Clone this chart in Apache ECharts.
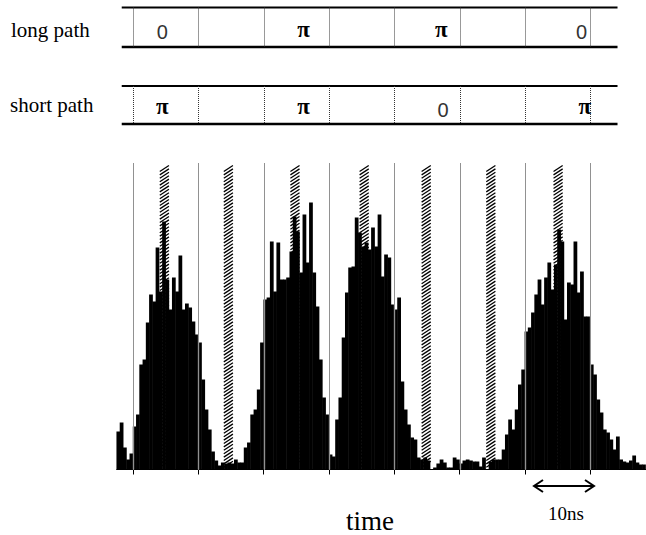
<!DOCTYPE html>
<html>
<head>
<meta charset="utf-8">
<script src="https://cdn.jsdelivr.net/npm/echarts@6/dist/echarts.min.js"></script>
<style>
    html, body { margin: 0; padding: 0; background: #fff; }
    #chart { width: 646px; height: 535px; }
</style>
</head>
<body>
<div id="chart"></div>
<script>
// time axis in ns, 0 = first gate edge
const binStart = -2.5;
const binWidth = 0.5;
const counts = [
    38, 47, 22, 10, 16,
    43, 55, 105, 110, 147, 175, 168, 222, 178, 248, 190, 160, 192, 178, 214, 160, 166, 162, 148, 135,
    127, 90, 60, 40, 18, 9, 4, 7, 6, 7, 6, 10, 7, 7, 22, 27, 55, 60, 80, 127,
    170, 172, 228, 178, 227, 190, 190, 192, 218, 253, 238, 197, 255, 207, 267, 197, 163, 110, 72, 55,
    15, 13, 50, 72, 132, 177, 202, 203, 252, 237, 223, 227, 220, 242, 223, 255, 193, 215, 212, 165,
    160, 172, 88, 60, 45, 32, 30, 12, 10, 12, 9, 0, 2, 6, 10, 7, 2, 2, 12, 10,
    6, 9, 10, 9, 8, 8, 3, 12, 0, 8, 10, 10, 10, 20, 35, 50, 40, 60, 85, 100,
    138, 142, 157, 175, 190, 165, 192, 207, 180, 205, 240, 228, 150, 187, 185, 228, 177, 198, 153, 153,
    105, 95, 70, 57, 40, 37, 30, 20, 33, 10, 8, 7, 9, 14, 7, 5, 5
];
const gateTimes = [0, 10, 20, 30, 40, 50, 60, 70];
const bandCenters = [4.8, 14.6, 24.8, 35.4, 44.9, 54.8, 65.1];
const bandWidth = 1.4;

const longPhase = ['0', 'π', 'π', '0'];
const longPhasePos = [4.5, 26.1, 47.2, 68.7];
const shortPhase = ['π', 'π', '0', 'π'];
const shortPhasePos = [4.5, 26.1, 47.5, 69.2];
const pathLine = [-1.73, 74.2];

const axisMin = -2.5;
const axisMax = 78.5;
const countMax = 310;
const gateTop = 306;
const bandTop = 304;

const binData = counts.map((c, i) => [binStart + i * binWidth, c]);

const chart = echarts.init(document.getElementById('chart'), null, { renderer: 'svg' });

const renderBin = (params, api) => {
    const x0 = api.value(0);
    const p0 = api.coord([x0, api.value(1)]);
    const p1 = api.coord([x0 + binWidth, 0]);
    return {
        type: 'rect',
        shape: { x: p0[0] - 0.25, y: p0[1], width: p1[0] - p0[0] + 0.5, height: p1[1] - p0[1] },
        style: { fill: '#000' }
    };
};

const renderBand = (params, api) => {
    const c = api.value(0);
    const a = api.coord([c - bandWidth / 2, bandTop]);
    const b = api.coord([c + bandWidth / 2, 0]);
    const rise = 6;
    const step = 3.4;
    const children = [];
    for (let y = a[1] + rise; y <= b[1]; y += step) {
        children.push({
            type: 'line',
            shape: { x1: a[0], y1: y, x2: b[0], y2: y - rise },
            style: { stroke: '#000', lineWidth: 1.3 }
        });
    }
    return { type: 'group', children };
};

const renderGate = (params, api) => {
    const a = api.coord([api.value(0), gateTop]);
    const b = api.coord([api.value(0), 0]);
    const x = Math.round(a[0]) + 0.5;
    return {
        type: 'group',
        children: [
            { type: 'line', shape: { x1: x, y1: a[1], x2: x, y2: b[1] }, style: { stroke: '#fff', lineWidth: 1.2 } },
            { type: 'line', shape: { x1: x, y1: a[1], x2: x, y2: b[1] }, style: { stroke: '#222', lineWidth: 1, lineDash: [1, 1] } }
        ]
    };
};

const renderPanelGate = (params, api) => {
    const a = api.coord([api.value(0), 1]);
    const b = api.coord([api.value(0), 0]);
    const x = Math.round(a[0]) + 0.5;
    return {
        type: 'line',
        shape: { x1: x, y1: a[1], x2: x, y2: b[1] },
        style: { stroke: '#333', lineWidth: 1, lineDash: [1, 1] }
    };
};

const renderFrame = (params, api) => {
    const t0 = api.coord([api.value(0), 1]);
    const t1 = api.coord([api.value(1), 1]);
    const b0 = api.coord([api.value(0), 0]);
    const b1 = api.coord([api.value(1), 0]);
    return {
        type: 'group',
        children: [
            { type: 'line', shape: { x1: t0[0], y1: t0[1], x2: t1[0], y2: t1[1] }, style: { stroke: '#000', lineWidth: 2.2 } },
            { type: 'line', shape: { x1: b0[0], y1: b0[1], x2: b1[0], y2: b1[1] }, style: { stroke: '#000', lineWidth: 2.4 } }
        ]
    };
};

const phaseRenderer = (labels) => (params, api) => {
    const text = labels[params.dataIndex];
    const isPi = text === 'π';
    const p = api.coord([api.value(0), isPi ? 0.45 : 0.38]);
    return {
        type: 'text',
        x: p[0],
        y: p[1],
        style: {
            text,
            fill: isPi ? '#000' : '#333',
            font: isPi ? 'bold 23px "Liberation Serif"' : '20px "Liberation Sans"',
            align: 'center',
            verticalAlign: 'middle'
        }
    };
};

const gridBase = { left: 116.7, width: 528.9 };
const hiddenX = (gridIndex) => ({
    type: 'value', gridIndex, min: axisMin, max: axisMax,
    axisLine: { show: false }, axisTick: { show: false }, axisLabel: { show: false }, splitLine: { show: false }
});
const hiddenY = (gridIndex, max) => ({
    type: 'value', gridIndex, min: 0, max,
    axisLine: { show: false }, axisTick: { show: false }, axisLabel: { show: false }, splitLine: { show: false }
});

const option = {
    animation: false,
    backgroundColor: '#fff',
    grid: [
        { ...gridBase, top: 159.5, height: 310 },
        { ...gridBase, top: 7.5, height: 39.5 },
        { ...gridBase, top: 86, height: 38 }
    ],
    xAxis: [
        {
            type: 'value', gridIndex: 0, min: axisMin, max: axisMax,
            axisLine: { show: true, onZero: false, lineStyle: { color: '#000', width: 1 } },
            axisTick: { show: true, customValues: gateTimes, length: 5, lineStyle: { color: '#000', width: 1 } },
            axisLabel: { show: false },
            splitLine: { show: false }
        },
        hiddenX(1),
        hiddenX(2)
    ],
    yAxis: [hiddenY(0, countMax), hiddenY(1, 1), hiddenY(2, 1)],
    series: [
        { type: 'custom', xAxisIndex: 0, yAxisIndex: 0, z: 1, data: bandCenters.map((c) => [c, bandTop]), renderItem: renderBand },
        { type: 'custom', xAxisIndex: 0, yAxisIndex: 0, z: 2, data: binData, renderItem: renderBin },
        { type: 'custom', xAxisIndex: 0, yAxisIndex: 0, z: 3, data: gateTimes.map((t) => [t, gateTop]), renderItem: renderGate },

        { type: 'custom', xAxisIndex: 1, yAxisIndex: 1, data: [pathLine], renderItem: renderFrame },
        { type: 'custom', xAxisIndex: 1, yAxisIndex: 1, data: gateTimes.map((t) => [t, 1]), renderItem: renderPanelGate },
        { type: 'custom', xAxisIndex: 1, yAxisIndex: 1, data: longPhasePos.map((x) => [x, 0.5]), renderItem: phaseRenderer(longPhase) },

        { type: 'custom', xAxisIndex: 2, yAxisIndex: 2, data: [pathLine], renderItem: renderFrame },
        { type: 'custom', xAxisIndex: 2, yAxisIndex: 2, data: gateTimes.map((t) => [t, 1]), renderItem: renderPanelGate },
        { type: 'custom', xAxisIndex: 2, yAxisIndex: 2, data: shortPhasePos.map((x) => [x, 0.5]), renderItem: phaseRenderer(shortPhase) }
    ],
    graphic: [
        { type: 'text', left: 11, top: 19, style: { text: 'long path', font: '21px "Liberation Serif"', fill: '#000' } },
        { type: 'text', left: 10, top: 94, style: { text: 'short path', font: '21px "Liberation Serif"', fill: '#000' } },
        { type: 'text', x: 370, y: 521, style: { text: 'time', font: '27px "Liberation Serif"', fill: '#000', align: 'center', verticalAlign: 'middle' } },
        { type: 'text', x: 566, y: 513, style: { text: '10ns', font: '19px "Liberation Serif"', fill: '#000', align: 'center', verticalAlign: 'middle' } },
        {
            type: 'group',
            children: [
                { type: 'line', shape: { x1: 534, y1: 486, x2: 594, y2: 486 }, style: { stroke: '#000', lineWidth: 2 } },
                { type: 'polyline', shape: { points: [[543, 480], [534, 486], [543, 492]] }, style: { stroke: '#000', lineWidth: 2, fill: null } },
                { type: 'polyline', shape: { points: [[585, 480], [594, 486], [585, 492]] }, style: { stroke: '#000', lineWidth: 2, fill: null } }
            ]
        }
    ]
};

chart.setOption(option);
</script>
</body>
</html>
